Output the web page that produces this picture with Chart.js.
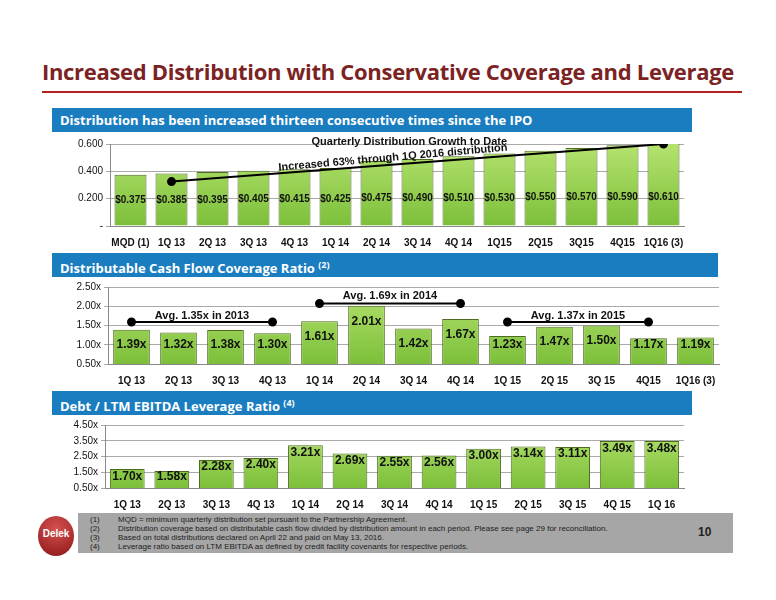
<!DOCTYPE html>
<html><head><meta charset="utf-8">
<script src="https://cdn.jsdelivr.net/npm/chart.js@4"></script>
<style>
body{margin:0;width:776px;height:600px;background:#fff;font-family:Calibri,"Liberation Sans Narrow","Open Sans",sans-serif;position:relative;overflow:hidden}
.abs{position:absolute}
.title{left:0;width:776px;top:56px;text-align:center;font:bold 22px "Open Sans",sans-serif;color:#7b2323;letter-spacing:-0.3px}
.rule{left:42px;width:700px;top:91px;height:2px;background:#b22222}
.ban{background:#1a7dc0;color:#fff;font:bold 13px "Open Sans",sans-serif;padding-left:8px;box-sizing:border-box;line-height:24px;height:24px}
.ban sup{font-size:9px}
.foot{left:78px;top:513px;width:655px;height:40px;background:#a6a6a6;font:8px "Liberation Sans Narrow",sans-serif;color:#222}
.foot div{position:absolute;left:12px;white-space:nowrap}
.foot span{display:inline-block;width:28px}
.logo{left:38px;top:516px;width:36px;height:40px;border-radius:50%;background:radial-gradient(circle at 50% 30%,#d65050,#8b1616);color:#fff;font:bold 10px sans-serif;text-align:center;line-height:36px}
canvas{position:absolute}
</style></head><body>
<div class="abs title">Increased Distribution with Conservative Coverage and Leverage</div>
<div class="abs rule"></div>
<div class="abs ban" style="left:52px;top:108px;width:640px">Distribution has been increased thirteen consecutive times since the IPO</div>
<div class="abs ban" style="left:52px;top:253px;width:666px">Distributable Cash Flow Coverage Ratio <sup>(2)</sup></div>
<div class="abs ban" style="left:52px;top:391px;width:640px">Debt / LTM EBITDA Leverage Ratio <sup>(4)</sup></div>
<div style="left:52px;top:134px;width:640px;height:118px" class="abs"><canvas id="c1"></canvas></div>
<div style="left:52px;top:278px;width:675px;height:112px" class="abs"><canvas id="c2"></canvas></div>
<div style="left:52px;top:416px;width:640px;height:98px" class="abs"><canvas id="c3"></canvas></div>
<div class="abs logo">Delek</div>
<div class="abs foot">
<div style="top:2px"><span>(1)</span>MQD = minimum quarterly distribution set pursuant to the Partnership Agreement.</div>
<div style="top:11px"><span>(2)</span>Distribution coverage based on distributable cash flow divided by distribution amount in each period.  Please see page 29 for reconciliation.</div>
<div style="top:20px"><span>(3)</span>Based on total distributions declared on April 22 and paid on May 13, 2016.</div>
<div style="top:29px"><span>(4)</span>Leverage ratio based on LTM EBITDA as defined by credit facility covenants for respective periods.</div>
<div style="left:620px;top:12px;font:bold 12px sans-serif">10</div>
</div>
<script>
const distLabels = ["MQD (1)","1Q 13","2Q 13","3Q 13","4Q 13","1Q 14","2Q 14","3Q 14","4Q 14","1Q15","2Q15","3Q15","4Q15","1Q16 (3)"];
const distValues = [0.375,0.385,0.395,0.405,0.415,0.425,0.475,0.490,0.510,0.530,0.550,0.570,0.590,0.610];
const growthLine = [null,0.325,null,null,null,null,null,null,null,null,null,null,null,0.600];

const covLabels = ["1Q 13","2Q 13","3Q 13","4Q 13","1Q 14","2Q 14","3Q 14","4Q 14","1Q 15","2Q 15","3Q 15","4Q15","1Q16 (3)"];
const covValues = [1.39,1.32,1.38,1.30,1.61,2.01,1.42,1.67,1.23,1.47,1.50,1.17,1.19];
const avg2013 = [1.59,null,null,1.59,null,null,null,null,null,null,null,null,null];
const avg2014 = [null,null,null,null,2.07,null,null,2.07,null,null,null,null,null];
const avg2015 = [null,null,null,null,null,null,null,null,1.59,null,null,1.59,null];

const levLabels = ["1Q 13","2Q 13","3Q 13","4Q 13","1Q 14","2Q 14","3Q 14","4Q 14","1Q 15","2Q 15","3Q 15","4Q 15","1Q 16"];
const levValues = [1.70,1.58,2.28,2.40,3.21,2.69,2.55,2.56,3.00,3.14,3.11,3.49,3.48];

const tickFont = {family:"'Liberation Sans Narrow',sans-serif",size:10,weight:"bold"};

function barLabels(fmt, posFn, size){
  return {id:"barLabels",afterDatasetsDraw(chart){
    const ctx=chart.ctx, meta=chart.getDatasetMeta(0), y=chart.scales.y;
    ctx.save();ctx.font="bold "+size+"px 'Liberation Sans Narrow',sans-serif";
    ctx.fillStyle="#111";ctx.textAlign="center";ctx.textBaseline="middle";
    meta.data.forEach((b,i)=>{const v=chart.data.datasets[0].data[i];ctx.fillText(fmt(v),b.x,y.getPixelForValue(posFn(v)));});
    ctx.restore();}};
}
function notes(list){
  return {id:"notes",afterDatasetsDraw(chart){
    const ctx=chart.ctx,x=chart.scales.x,y=chart.scales.y;
    ctx.save();ctx.fillStyle="#111";ctx.textAlign="center";ctx.textBaseline="middle";
    list.forEach(n=>{ctx.save();ctx.font="bold 11px 'Liberation Sans Narrow',sans-serif";
      ctx.translate(x.getPixelForValue(n.i),y.getPixelForValue(n.v));ctx.rotate((n.rot||0)*Math.PI/180);
      ctx.fillText(n.t,0,0);ctx.restore();});
    ctx.restore();}};
}
function barSet(data){
  return {type:"bar",data,order:2,borderColor:"#4f6b1f",borderWidth:1,categoryPercentage:0.78,barPercentage:1,
    backgroundColor(c){const a=c.chart.chartArea;if(!a)return"#92d050";
      const g=c.chart.ctx.createLinearGradient(0,a.top,0,a.bottom);g.addColorStop(0,"#b5e36f");g.addColorStop(1,"#7cbf3a");return g;}};
}
function lineSet(data){
  return {type:"line",data,order:1,spanGaps:true,borderColor:"#000",borderWidth:2,pointRadius:3.5,pointBackgroundColor:"#000",pointBorderColor:"#000"};
}
function opts(min,max,step,fmt,axisW,top){
  return {responsive:true,maintainAspectRatio:false,animation:false,
    layout:{padding:{right:8,top:top||4}},
    plugins:{legend:{display:false},tooltip:{enabled:false}},
    scales:{
      x:{grid:{display:false},border:{color:"#888"},ticks:{font:tickFont,color:"#111",maxRotation:0,autoSkip:false}},
      y:{min,max,afterFit(s){s.width=axisW;},border:{color:"#888"},
        grid:{color:"#aaa",drawTicks:true,tickLength:4},
        ticks:{stepSize:step,font:{family:"'Liberation Sans Narrow',sans-serif",size:10},color:"#111",callback:fmt}}}};
}

const o1=opts(0,0.6,0.2,v=>v===0?"-":v.toFixed(3),58,10);
new Chart(document.getElementById("c1"),{data:{labels:distLabels,datasets:[barSet(distValues),lineSet(growthLine)]},
  options:o1,plugins:[barLabels(v=>"$"+v.toFixed(3),v=>0.19+(v-0.375)*0.1,10),
  notes([{i:6.8,v:0.615,t:"Quarterly Distribution Growth to Date"},{i:6.4,v:0.5,t:"Increased 63% through 1Q 2016 distribution",rot:-5}])]});

const o2=opts(0.5,2.5,0.5,v=>v.toFixed(2)+"x",56);
new Chart(document.getElementById("c2"),{data:{labels:covLabels,datasets:[barSet(covValues),lineSet(avg2013),lineSet(avg2014),lineSet(avg2015)]},
  options:o2,plugins:[barLabels(v=>v.toFixed(2)+"x",v=>Math.max(1.0,v-0.4),12),
  notes([{i:1.5,v:1.75,t:"Avg. 1.35x in 2013"},{i:5.5,v:2.27,t:"Avg. 1.69x in 2014"},{i:9.5,v:1.75,t:"Avg. 1.37x in 2015"}])]});

const o3=opts(0.5,4.5,1,v=>v.toFixed(2)+"x",53);
new Chart(document.getElementById("c3"),{data:{labels:levLabels,datasets:[barSet(levValues)]},
  options:o3,plugins:[barLabels(v=>v.toFixed(2)+"x",v=>Math.min(3.0,Math.max(1.2,v-0.45)),12)]});
</script>
</body></html>
